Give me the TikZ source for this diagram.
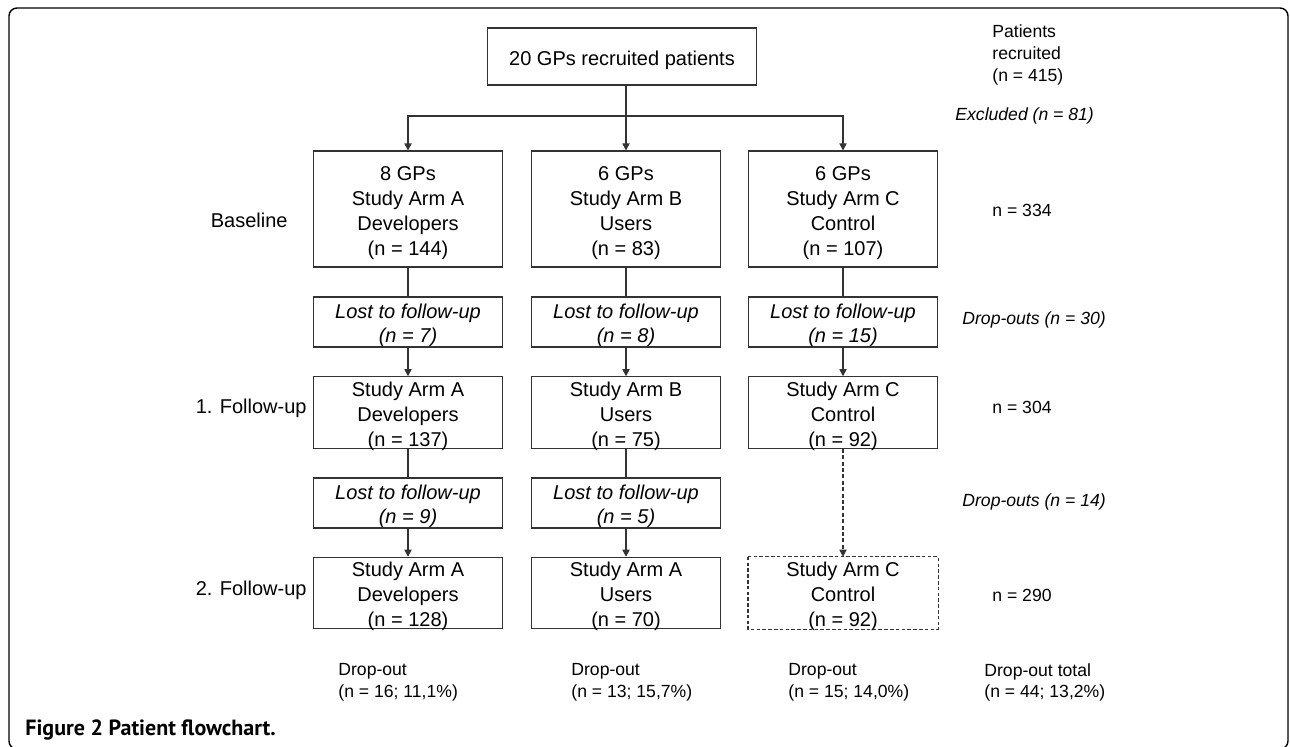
\documentclass[tikz,border=0pt]{standalone}
\usepackage{fontspec}
\setmainfont{Liberation Sans}
\newfontfamily\capfont{PT Sans}
\usepackage{tikz}
\usetikzlibrary{arrows.meta,positioning}
\newcommand\lift{\rule{0pt}{10.6pt}}
\tikzset{
    flow-box/.style = {draw=black!80, line width=0.55pt, rectangle, align=center, inner sep=0pt, minimum width=94.5pt, font=\fontsize{10}{12.5}\selectfont},
    arm-box/.style = {flow-box, minimum height=58pt},
    lost-box/.style = {flow-box, minimum height=25pt, font=\fontsize{10}{11.75}\selectfont\itshape},
    fu-box/.style = {flow-box, minimum height=35.75pt, inner ysep=-1.6pt},
    side-label/.style = {anchor=west, align=left, inner sep=0pt, font=\fontsize{8.8}{10.8}\selectfont},
    row-label/.style = {anchor=east, inner sep=0pt, font=\fontsize{10}{12}\selectfont},
    flow-line/.style = {draw=black!80, line width=0.55pt},
    flow-arrow/.style = {flow-line, -{Triangle[length=3.5pt,width=3.6pt]}},
}

\begin{document}
\begin{tikzpicture}[x=0.5pt,y=-0.5pt]
\useasboundingbox (0,0) rectangle (1290,746);
\draw[line width=0.7pt, rounded corners=4pt] (9,8) rectangle (1288,749);

\node [flow-box, minimum width=134.5pt, minimum height=28.5pt] (top) at (622,56.5) {\lift 20 GPs recruited patients};
\coordinate (fork) at (626,116);

\node [arm-box] (armA) at (408,209) {\lift 8 GPs\\Study Arm A\\Developers\\(n = 144)};
\node [arm-box] (armB) at (626,209) {\lift 6 GPs\\Study Arm B\\Users\\(n = 83)};
\node [arm-box] (armC) at (843,209) {\lift 6 GPs\\Study Arm C\\Control\\(n = 107)};

\node [lost-box] (lostA1) at (408,322) {\lift Lost to follow-up\\(\textit{n} = 7)};
\node [lost-box] (lostB1) at (626,322) {\lift Lost to follow-up\\(\textit{n} = 8)};
\node [lost-box] (lostC1) at (843,322) {\lift Lost to follow-up\\(\textit{n} = 15)};

\node [fu-box] (fuA1) at (408,412.5) {\lift Study Arm A\\Developers\\(n = 137)};
\node [fu-box] (fuB1) at (626,412.5) {\lift Study Arm B\\Users\\(n = 75)};
\node [fu-box] (fuC1) at (843,412.5) {\lift Study Arm C\\Control\\(n = 92)};

\node [lost-box] (lostA2) at (408,503) {\lift Lost to follow-up\\(\textit{n} = 9)};
\node [lost-box] (lostB2) at (626,503) {\lift Lost to follow-up\\(\textit{n} = 5)};

\node [fu-box] (fuA2) at (408,593) {\lift Study Arm A\\Developers\\(n = 128)};
\node [fu-box] (fuB2) at (626,593) {\lift Study Arm A\\Users\\(n = 70)};
\node [fu-box, draw=none] (fuC2) at (843,593) {\lift Study Arm C\\Control\\(n = 92)};
\draw[black!80, line width=0.55pt, dash pattern=on 1.8pt off 1.1pt] (fuC2.north west) rectangle (fuC2.south east);

\draw[flow-arrow] (top.south -| armB.north) -- (armB.north);
\draw[flow-arrow] (fork) -| (armA.north);
\draw[flow-arrow] (fork) -| (armC.north);

\draw[flow-line] (armA.south) -- (lostA1.north);
\draw[flow-arrow] (lostA1.south) -- (fuA1.north);
\draw[flow-line] (fuA1.south) -- (lostA2.north);
\draw[flow-arrow] (lostA2.south) -- (fuA2.north);

\draw[flow-line] (armB.south) -- (lostB1.north);
\draw[flow-arrow] (lostB1.south) -- (fuB1.north);
\draw[flow-line] (fuB1.south) -- (lostB2.north);
\draw[flow-arrow] (lostB2.south) -- (fuB2.north);

\draw[flow-line] (armC.south) -- (lostC1.north);
\draw[flow-arrow] (lostC1.south) -- (fuC1.north);
\draw[flow-arrow, dash pattern=on 2pt off 1.2pt] (fuC1.south) -- (fuC2.north);

\node [row-label] (baseline) at (288,220) {Baseline};
\node [row-label] (follow1) at (307,408) {1. Follow-up};
\node [row-label] (follow2) at (307,590) {2. Follow-up};

\node [side-label] (recruited) at (992,55) {Patients\\recruited\\(n = 415)};
\node [side-label, font=\fontsize{8.8}{10.8}\selectfont\itshape] (excluded) at (955,116) {Excluded (n = 81)};
\node [side-label] (n334) at (992,210) {n = 334};
\node [side-label, font=\fontsize{8.8}{10.8}\selectfont\itshape] (drop30) at (962,320) {Drop-outs (n = 30)};
\node [side-label] (n304) at (992,407) {n = 304};
\node [side-label, font=\fontsize{8.8}{10.8}\selectfont\itshape] (drop14) at (962,502) {Drop-outs (n = 14)};
\node [side-label] (n290) at (992,595) {n = 290};

\node [side-label] (dropA) at (338,682.5) {Drop-out\\(n = 16; 11,1\%)};
\node [side-label] (dropB) at (571,682.5) {Drop-out\\(n = 13; 15,7\%)};
\node [side-label] (dropC) at (788,682.5) {Drop-out\\(n = 15; 14,0\%)};
\node [side-label] (dropAll) at (984,682.5) {Drop-out total\\(n = 44; 13,2\%)};

\node [anchor=base west, inner sep=0pt, font=\capfont\bfseries\fontsize{11}{13}\selectfont] (caption) at (25,735) {Figure 2 Patient flowchart.};
\end{tikzpicture}
\end{document}
